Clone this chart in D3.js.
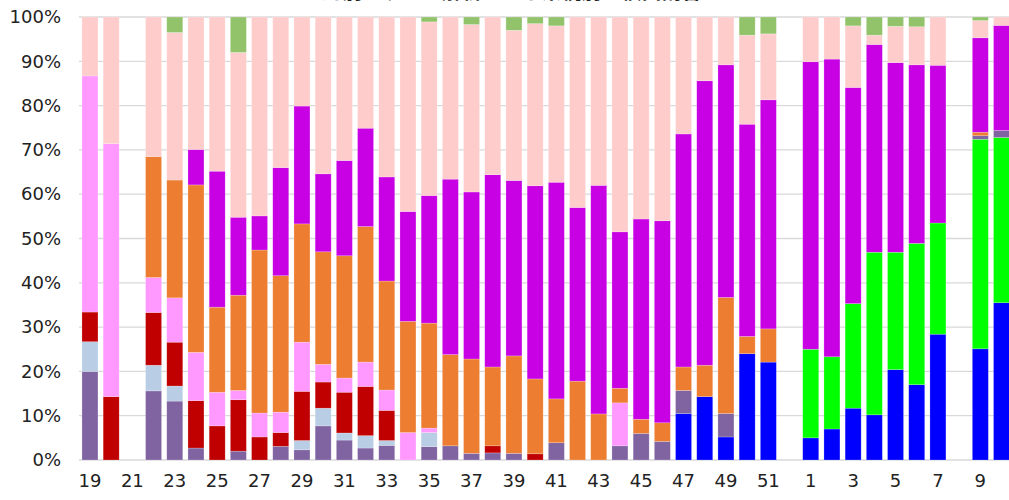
<!DOCTYPE html>
<html>
<head>
<meta charset="utf-8">
<script src="https://cdn.jsdelivr.net/npm/d3@7"></script>
<style>
  html, body { margin: 0; padding: 0; background: #fff; }
  svg { display: block; }
</style>
</head>
<body>
<svg id="chart" width="1009" height="500"></svg>
<script>
// ISO weeks: 2020 week 19–52, then 2021 week 1–10
const weeks = ["19","20","21","22","23","24","25","26","27","28","29","30","31","32","33","34","35","36","37","38","39","40","41","42","43","44","45","46","47","48","49","50","51","52","1","2","3","4","5","6","7","8","9","10"];

// Share of each lineage group per week (%), bottom of the stack first
const lineageBlue    = [0,0,0,0,0,0,0,0,0,0,0,0,0,0,0,0,0,0,0,0,0,0,0,0,0,0,0,0,10.5,14.3,5.2,24,22.1,0,5,7,11.7,10.2,20.4,17,28.4,0,25.1,35.5];
const lineageLime    = [0,0,0,0,0,0,0,0,0,0,0,0,0,0,0,0,0,0,0,0,0,0,0,0,0,0,0,0,0,0,0,0,0,0,20,16.3,23.6,36.7,26.5,31.9,25.1,0,47.3,37.3];
const lineagePurple  = [20,0,0,15.6,13.3,2.7,0,2,0,3.1,2.3,7.7,4.5,2.7,3.3,0,3,3.2,1.5,1.6,1.5,0,3.9,0,0,3.2,6,4.2,5.2,0,5.3,0,0,0,0,0,0,0,0,0,0,0,0.8,1.6];
const lineageSky     = [6.7,0,0,5.8,3.4,0,0,0,0,0,2.1,4,1.6,2.8,1.1,0,3.2,0,0,0,0,0,0,0,0,0,0,0,0,0,0,0,0,0,0,0,0,0,0,0,0,0,0,0];
const lineageRed     = [6.7,14.3,0,11.9,9.9,10.7,7.7,11.6,5.2,3.1,11.1,5.9,9.2,11.1,6.8,0,0,0,0,1.6,0,1.4,0,0,0,0,0,0,0,0,0,0,0,0,0,0,0,0,0,0,0,0,0,0];
const lineagePink    = [53.3,57.1,0,7.9,10,10.9,7.6,2.1,5.4,4.6,11.1,4,3.2,5.5,4.6,6.2,1,0,0,0,0,0,0,0,0,9.7,0,0,0,0,0,0,0,0,0,0,0,0,0,0,0,0,0,0];
const lineageOrange  = [0,0,0,27.3,26.6,37.8,19.2,21.5,36.8,30.8,26.7,25.4,27.6,30.6,24.6,25.1,23.7,20.6,21.3,17.8,22,16.9,9.9,17.8,10.4,3.3,3.2,4.2,5.3,7.1,26.2,3.9,7.5,0,0,0,0,0,0,0,0,0,0.8,0];
const lineageMagenta = [0,0,0,0,0,8,30.7,17.6,7.7,24.4,26.6,17.6,21.5,22.2,23.5,24.8,28.8,39.6,37.7,43.4,39.6,43.6,48.9,39.2,51.6,35.3,45.2,45.6,52.6,64.2,52.5,47.9,51.7,0,64.9,67.2,48.8,46.9,42.8,40.3,35.6,0,21.3,23.7];
const lineageRose    = [13.3,28.6,0,31.5,33.3,29.9,34.8,37.2,44.9,34,20.1,35.4,32.4,25.1,36.1,43.9,39.2,36.6,37.8,35.6,33.9,36.6,35.3,43,38,48.5,45.6,46,26.4,14.4,10.8,20.1,14.9,0,10.1,9.5,13.9,2.1,8.2,8.6,10.9,0,3.9,1.9];
const lineageOther   = [0,0,0,0,3.5,0,0,8,0,0,0,0,0,0,0,0,1.1,0,1.7,0,3,1.5,2,0,0,0,0,0,0,0,0,4.1,3.8,0,0,0,2,4.1,2.1,2.2,0,0,0.8,0];

const seriesKeys   = ["blue","lime","purple","sky","red","pink","orange","magenta","rose","other"];
const seriesValues = [lineageBlue, lineageLime, lineagePurple, lineageSky, lineageRed, lineagePink, lineageOrange, lineageMagenta, lineageRose, lineageOther];
const seriesColors = ["#0000FF","#00FF00","#8064A2","#B9CDE5","#C00000","#FF99FF","#ED7D31","#C800E4","#FFCCCC","#92C36B"];

const yTicks = [0,0.1,0.2,0.3,0.4,0.5,0.6,0.7,0.8,0.9,1];
const titleText = "週別　ゲノム解析による系統別の検出割合";

const rows = weeks.map((w, i) => {
  const r = { week: w };
  seriesKeys.forEach((k, s) => { r[k] = seriesValues[s][i]; });
  return r;
});

const svg = d3.select("#chart");
const fontFamily = "'DejaVu Sans', Verdana, sans-serif";

const x = d3.scaleBand()
  .domain(weeks)
  .range([79, 1012.5])
  .paddingInner(0.245)
  .paddingOuter(0.14);

const y = d3.scaleLinear().domain([0, 1]).range([460, 17]);

// Horizontal gridlines
svg.append("g")
  .selectAll("line")
  .data(yTicks)
  .join("line")
  .attr("x1", 79).attr("x2", 1009)
  .attr("y1", d => y(d)).attr("y2", d => y(d))
  .attr("stroke", "#d9d9d9")
  .attr("stroke-width", 1.3);

// 100% stacked bars
const stack = d3.stack().keys(seriesKeys).offset(d3.stackOffsetExpand);
const layers = stack(rows);

svg.append("g")
  .selectAll("g")
  .data(layers)
  .join("g")
  .attr("fill", (d, i) => seriesColors[i])
  .selectAll("rect")
  .data(d => d.filter(p => p[1] - p[0] > 0))
  .join("rect")
  .attr("x", d => x(d.data.week))
  .attr("width", x.bandwidth())
  .attr("y", d => y(d[1]))
  .attr("height", d => y(d[0]) - y(d[1]))
  .attr("stroke", "#ffffff")
  .attr("stroke-opacity", 0.35)
  .attr("stroke-width", 0.6);

// Y axis labels
const yAxis = d3.axisLeft(y)
  .tickValues(yTicks)
  .tickFormat(d3.format(".0%"))
  .tickSize(0)
  .tickPadding(0);
const gy = svg.append("g").attr("transform", "translate(61,0)").call(yAxis);
gy.select(".domain").remove();
gy.selectAll("text")
  .attr("font-family", fontFamily)
  .attr("font-size", 18)
  .attr("fill", "#222");

// X axis labels, every other week
const xAxis = d3.axisBottom(x)
  .tickValues(weeks.filter((w, i) => i % 2 === 0))
  .tickSize(0)
  .tickPadding(0);
const gx = svg.append("g").attr("transform", "translate(0,474)").call(xAxis);
gx.select(".domain").remove();
gx.selectAll("text")
  .attr("font-family", fontFamily)
  .attr("font-size", 18)
  .attr("fill", "#222");

// Title, running off the top edge of the frame
svg.append("text")
  .attr("x", 512)
  .attr("y", -1.5)
  .attr("text-anchor", "middle")
  .attr("font-family", "'Noto Sans CJK JP', sans-serif")
  .attr("font-weight", "bold")
  .attr("font-size", 20)
  .attr("fill", "#222")
  .text(titleText);
</script>
</body>
</html>
